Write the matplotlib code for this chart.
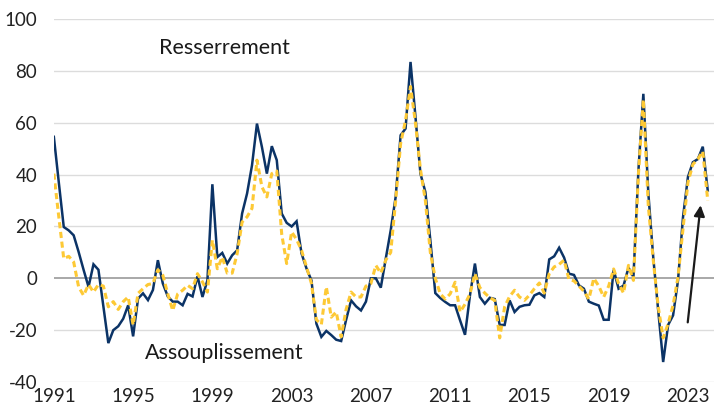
import matplotlib
matplotlib.use("Agg")
import matplotlib.pyplot as plt
import numpy as np

start_year = 1991.0
large_firms = [
    54.6, 37, 19.8, 18.5, 16.6, 10.2, 3.3, -3.3, 5.4, 3.3, -11, -25,
    -20, -18.5, -15.6, -10.4, -22.4, -7.8, -5.8, -8.4, -4.5, 7, -2, -7,
    -9, -9, -10.4, -6, -7, 0.8, -7.2, -0.8, 36.3, 8.2, 9.8, 5.7,
    8.9, 10.8, 25, 32.7, 43.6, 59.7, 50.7, 40.4, 51, 45.6, 25, 21.4,
    20, 22, 9.6, 3.8, -0.8, -17.5, -22.6, -20.3, -21.9, -23.7, -24.2, -16,
    -8.5, -10.8, -12.4, -9, 0, 0, -3.6, 7.6, 18.5, 31.4, 55.2, 57.8,
    83.5, 62.3, 40.4, 33.3, 14.7, -5.7, -7.6, -9.1, -10.4, -10.4, -16.2, -21.8,
    -6.6, 5.7, -7.2, -9.8, -7.5, -8, -18, -18, -8.5, -13, -11, -10.4,
    -10.2, -6.6, -5.7, -7.2, 7.3, 8.5, 11.8, 8, 1.8, 1.3, -2.7, -4,
    -9, -9.8, -10.5, -16, -16, 3.3, -4, -2.8, 4.1, 0.5, 41.5, 71.2,
    33, 8, -12.4, -32.3, -18, -14.3, -0.8, 23.5, 39.1, 44.8, 46.0, 50.8,
    33.9,
]
small_firms = [
    40.4, 23.7, 7.6, 8.5, 6.3, -3.3, -6.6, -2.4, -5.3, -2.4, -3, -11,
    -9, -12, -9, -7.2, -18, -5.8, -4, -2.4, -2, 3.3, 1.2, -6,
    -12.4, -6, -4.6, -2.7, -4, 1.8, -1.4, -5.3, 14.7, 3.7, 8.2, 2,
    2, 9.5, 21.7, 23.7, 27, 45.6, 35.3, 31.4, 40.4, 41.4, 17, 5.7,
    17.9, 15, 10.8, 4.4, -2, -16, -17.8, -3.3, -15, -13, -22.6, -12,
    -5.3, -7.2, -7.2, -3, -2, 5, 2, 7, 10, 30, 52, 61,
    74, 60, 42, 30, 10, 0, -6, -8, -6, -1.5, -13, -10,
    -6, 1.8, -3.6, -5.7, -7.5, -8.5, -23, -11, -7, -4.6, -7.2, -8.5,
    -6.5, -4, -1.8, -5.7, 1.8, 4.4, 5.4, 7, -0.5, -1, -3, -5,
    -8, 0, -3, -7.2, -3, 3.6, -2, -5.7, 5, -0.8, 40, 69,
    28, 7, -11, -23, -17.5, -10.4, 0.5, 19, 37, 44, 46, 49,
    30,
]
x_ticks = [1991, 1995, 1999, 2003, 2007, 2011, 2015, 2019, 2023]
y_ticks = [-40, -20, 0, 20, 40, 60, 80, 100]

navy = "#0b3366"
yellow = "#fdc935"

plt.rcParams['font.family'] = ['Lato', 'DejaVu Sans']

fig = plt.figure(figsize=(7.18, 4.17), dpi=100)
ax = fig.add_axes([0.075, 0.084, 0.919, 0.870])

x = start_year + np.arange(len(large_firms)) * 0.25

for yt in y_ticks:
    if yt == 0:
        ax.axhline(yt, color="#9a9a9a", lw=1.2, zorder=1)
    else:
        ax.axhline(yt, color="#dcdcdc", lw=1.0, zorder=1)

ax.plot(x, large_firms, color=navy, lw=1.8, zorder=3, solid_joinstyle="miter")
ax.plot(x, small_firms, color=yellow, lw=2.2, linestyle=(0, (2.0, 1.2)), zorder=4)

ax.annotate("", xy=(2023.64, 28.2), xytext=(2022.99, -17),
            arrowprops=dict(arrowstyle="-|>", color="#1a1a1a", lw=1.6,
                            mutation_scale=16, shrinkA=0, shrinkB=0), zorder=5)

ax.text(1999.6, 89, "Resserrement", ha="center", va="center", fontsize=15.5, color="#1a1a1a")
ax.text(1999.6, -29, "Assouplissement", ha="center", va="center", fontsize=15.5, color="#1a1a1a")

ax.set_xlim(1991, 2024.3)
ax.set_ylim(-40, 100)
ax.set_xticks(x_ticks)
ax.set_xticklabels([str(t) for t in x_ticks])
ax.set_yticks(y_ticks)
ax.set_yticklabels([str(t) for t in y_ticks])
ax.tick_params(axis="both", length=0, labelsize=13.5, colors="#222222")
ax.tick_params(axis="y", pad=12)
ax.tick_params(axis="x", pad=4)
for s in ax.spines.values():
    s.set_visible(False)

fig.savefig("out.png", dpi=100)
